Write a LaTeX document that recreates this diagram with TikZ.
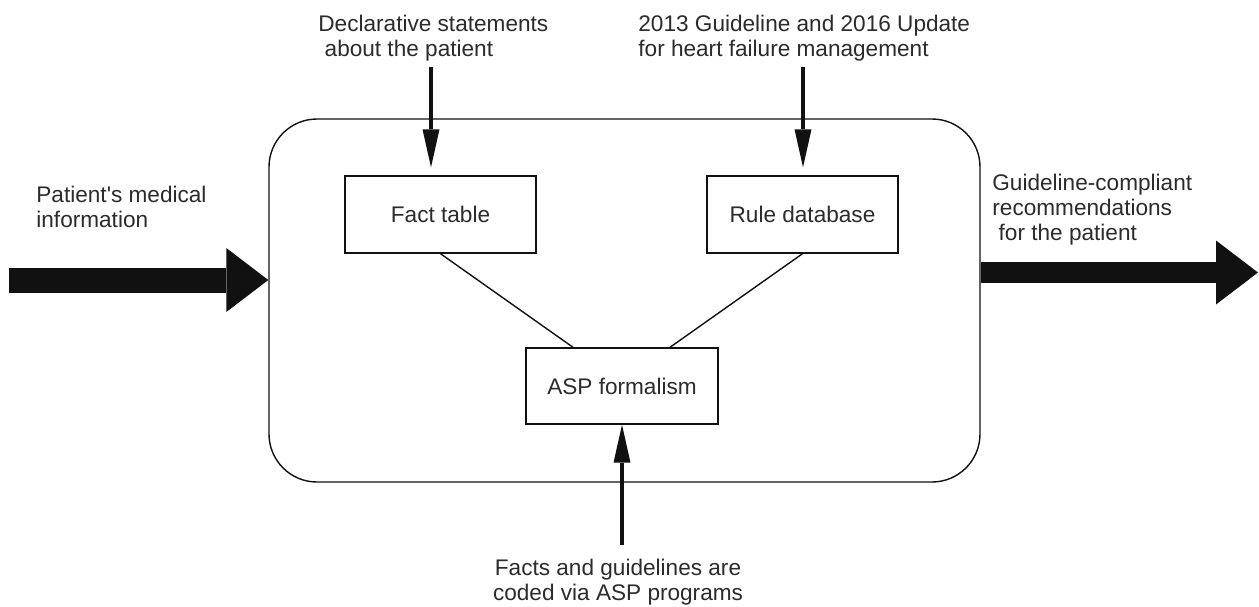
\documentclass[tikz,border=0pt]{standalone}
\usepackage{fontspec}
\setmainfont{Liberation Sans}
\usetikzlibrary{arrows.meta}
\definecolor{diagink}{HTML}{111111}
\definecolor{diagtext}{HTML}{2B2B2B}

\begin{document}
\begin{tikzpicture}[
    x=0.5pt, y=-0.5pt,
    block/.style={rectangle, draw=diagink, line width=0.7pt, minimum width=95.5pt,
      minimum height=38.5pt, inner sep=0pt, text=diagtext},
    frame/.style={rectangle, draw=diagink, line width=0.7pt, rounded corners=24pt,
      minimum width=355.5pt, minimum height=181.5pt, inner sep=0pt},
    link/.style={draw=diagink, line width=0.7pt},
    feed/.style={draw=diagink, line width=1.8pt,
      -{Triangle[width=8.5pt, length=19pt, line width=0pt]}},
    bigarrow/.style={draw=diagink, line width=11.5pt,
      -{Triangle[width=32pt, length=21pt, line width=0pt]}},
    lbl/.style={font=\fontsize{11.3}{12.5}\selectfont, text=diagtext, inner sep=0pt, align=left},
  ]
  \useasboundingbox (0,0) rectangle (1259,606);

  % ---- the reasoning system and its three parts
  \node[frame] (system) at (624.5,300.5) {};
  \node[block, font=\fontsize{11.3}{12.5}\selectfont] (fact) at (440.5,214.5) {Fact table};
  \node[block, font=\fontsize{11.3}{12.5}\selectfont] (rule) at (802.5,214.5) {Rule database};
  \node[block, font=\fontsize{11.3}{12.5}\selectfont, minimum width=96pt, minimum height=38pt]
    (asp) at (622,386) {ASP formalism};

  \draw[link] (fact.south) -- ([xshift=-24.5pt]asp.north);
  \draw[link] (rule.south) -- ([xshift=24pt]asp.north);

  % ---- inputs from above and below (base = last line)
  \node[lbl, anchor=base west] (decl) at (318,56)
    {Declarative statements\\\hspace*{0.278em}about the patient};
  \node[lbl, anchor=base west] (guide) at (638,56)
    {2013 Guideline and 2016 Update\\for heart failure management};
  \node[lbl, anchor=base, align=center] (coded) at (618,600)
    {Facts and guidelines are\\coded via ASP programs};

  \coordinate (declout) at (431,67);
  \coordinate (guideout) at (803,67);
  \coordinate (codedout) at (622,545);
  \draw[feed, shorten >=4pt] (declout) -- (declout |- fact.north);
  \draw[feed, shorten >=4pt] (guideout) -- (guideout |- rule.north);
  \draw[feed] (codedout) -- (asp.south);

  % ---- what goes in and what comes out
  \node[lbl, anchor=base west] (patient) at (36,227)
    {Patient\textquotesingle s medical\\information};
  \node[lbl, anchor=base west] (advice) at (992,240)
    {Guideline-compliant\\recommendations\\\hspace*{0.278em}for the patient};

  \coordinate (patin) at (9,280);
  \coordinate (recout) at (1258,272.5);
  \draw[bigarrow, line width=12.5pt] (patin) -- (patin -| system.west);
  \draw[bigarrow, line width=10.5pt] (system.east |- recout) -- (recout);

\end{tikzpicture}
\end{document}
